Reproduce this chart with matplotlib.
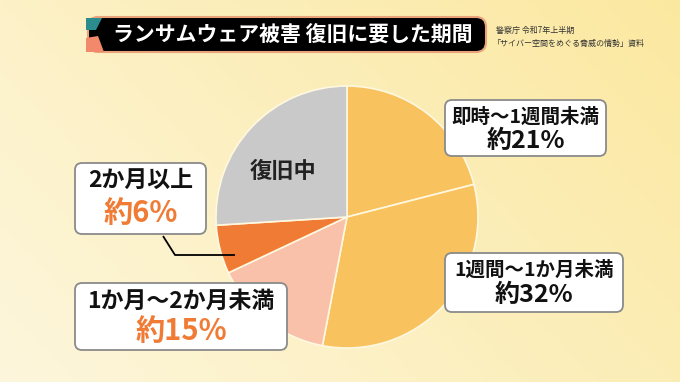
import matplotlib
matplotlib.use("Agg")
import matplotlib.pyplot as plt
import numpy as np
from matplotlib.patches import FancyBboxPatch, Polygon

plt.rcParams['font.family'] = ['Noto Sans CJK JP', 'DejaVu Sans']

title = "ランサムウェア被害 復旧に要した期間"
source = ["警察庁 令和7年上半期", "「サイバー空間をめぐる脅威の情勢」資料"]
categories = ["即時〜1週間未満", "1週間〜1か月未満", "1か月〜2か月未満", "2か月以上", "復旧中"]
values = [21, 32, 15, 6, 26]
pct_labels = ["約21%", "約32%", "約15%", "約6%", ""]
colors = ["#F8C35E", "#F8C35E", "#F9C1A9", "#F07B35", "#C9C9C9"]

W, H = 680, 382
fig = plt.figure(figsize=(6.8, 3.82), dpi=100)
ax = fig.add_axes([0, 0, 1, 1])
ax.set_xlim(0, W)
ax.set_ylim(0, H)
ax.set_aspect('equal')
ax.axis('off')

# background gradient
xx = np.linspace(0, 1, 200)
yy = np.linspace(0, 1, 120)
X, Y = np.meshgrid(xx, yy)
t = np.clip(0.65 * X + 0.35 * Y, 0, 1)
c1 = np.array([253, 246, 220]) / 255
c2 = np.array([251, 232, 160]) / 255
img = c1[None, None, :] * (1 - t[..., None]) + c2[None, None, :] * t[..., None]
ax.imshow(img, extent=[0, W, 0, H], origin='lower', aspect='auto', zorder=0)

def py(y):
    return H - y

# pie
cx, cy, r = 347, 217, 131
wedges, _ = ax.pie(values, colors=colors, startangle=90, counterclock=False,
                   center=(cx, py(cy)), radius=r, frame=True,
                   wedgeprops=dict(edgecolor='#FFF8E0', linewidth=1.2))
for w in wedges:
    w.set_zorder(2)
ax.set_xlim(0, W)
ax.set_ylim(0, H)
ax.axis('off')

# title bar
tb = FancyBboxPatch((88, py(52)), 398, 35, boxstyle="round,pad=0,rounding_size=10",
                    facecolor='black', edgecolor='#E9A27A', linewidth=1.5, zorder=3)
ax.add_patch(tb)
ax.add_patch(Polygon([(86, py(38)), (86, py(52)), (104, py(52)), (98, py(36))],
                     closed=True, facecolor='#F2896A', edgecolor='none', zorder=4))
ax.add_patch(Polygon([(86, py(18)), (86, py(30)), (96, py(30)), (102, py(18))],
                     closed=True, facecolor='#2A8C8C', edgecolor='none', zorder=4))
ax.text(113, py(35), title, color='white', fontsize=15, fontweight='bold',
        ha='left', va='center', zorder=5)
ax.text(496, py(30), source[0], fontsize=5.8, color='#333333', ha='left', va='center', zorder=5)
ax.text(493, py(43), source[1], fontsize=5.8, color='#333333', ha='left', va='center', zorder=5)

def label_box(x0, y0, x1, y1, line1, line2, pct_color, fs1, fs2, f1=0.29, f2=0.71):
    b = FancyBboxPatch((x0, py(y1)), x1 - x0, y1 - y0,
                       boxstyle="round,pad=0,rounding_size=7",
                       facecolor='white', edgecolor='#8A8A8A', linewidth=1.3, zorder=6)
    ax.add_patch(b)
    xm = (x0 + x1) / 2
    h = y1 - y0
    ax.text(xm, py(y0 + h * f1), line1, fontsize=fs1, fontweight='bold', color='#111111',
            ha='center', va='center', zorder=7)
    ax.text(xm, py(y0 + h * f2), line2, fontsize=fs2, fontweight='bold', color=pct_color,
            ha='center', va='center', zorder=7)

label_box(445, 100, 606, 156, categories[0], pct_labels[0], '#111111', 14, 18, 0.30, 0.73)
label_box(445, 253, 623, 312, categories[1], pct_labels[1], '#111111', 14, 18, 0.30, 0.72)
label_box(75, 283, 287, 350, categories[2], pct_labels[2], '#F07B35', 16.5, 21, 0.27, 0.72)
label_box(75, 163, 206, 234, categories[3], pct_labels[3], '#F07B35', 16.5, 21, 0.25, 0.71)

ax.text(283, py(172), categories[4], fontsize=16, fontweight='bold', color='#222222',
        ha='center', va='center', zorder=7)

# leader line for 2か月以上
ax.plot([163, 175, 235], [py(236), py(255), py(255)], color='black', lw=1.3, zorder=5,
        solid_capstyle='butt')

fig.savefig("out.png", dpi=100)
